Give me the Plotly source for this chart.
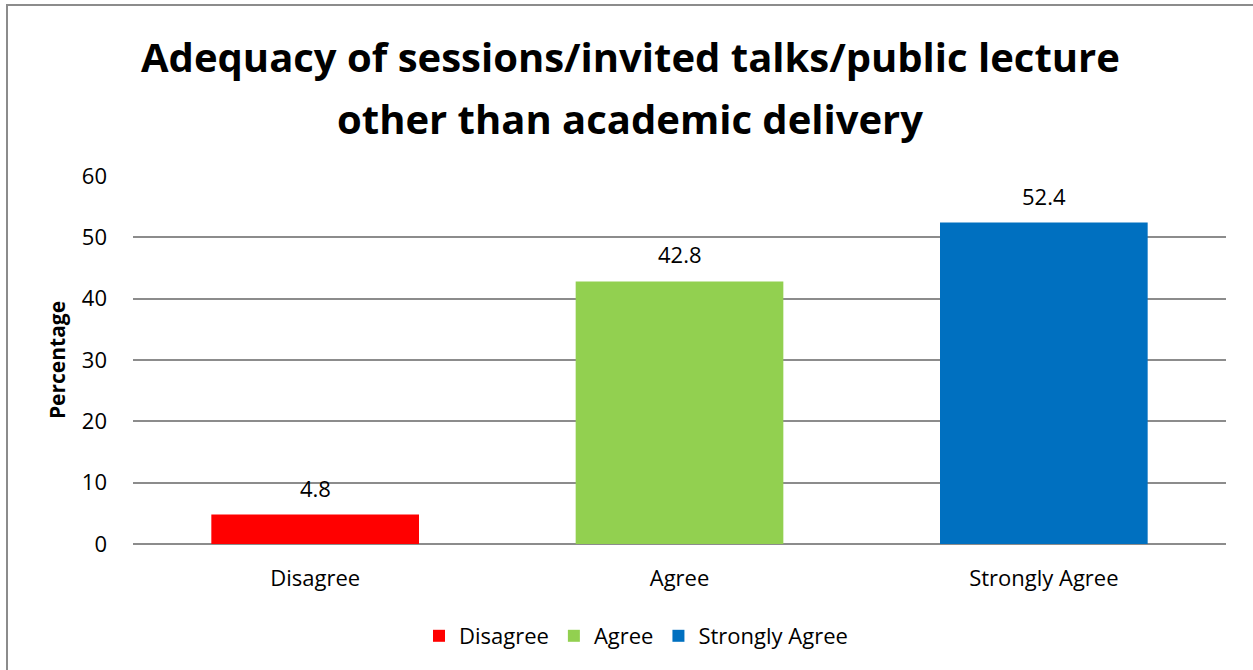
import plotly.graph_objects as go

categories = ["Disagree", "Agree", "Strongly Agree"]
values = [4.8, 42.8, 52.4]
colors = ["#FF0000", "#92D050", "#0070C0"]
y_ticks = [0, 10, 20, 30, 40, 50, 60]
title_lines = ["Adequacy of sessions/invited talks/public lecture", "other than academic delivery"]

FONT = "Open Sans"
W, H = 1253, 670
L, R, T, B = 133, 27, 176, 126
pw = W - L - R
ph = H - T - B

fig = go.Figure()
for c, v, col in zip(categories, values, colors):
    fig.add_trace(go.Bar(x=[c], y=[v], name=c, marker_color=col, width=0.57,
                         marker_line_width=0))

for c, v in zip(categories, values):
    fig.add_annotation(x=c, y=v, text=f"{v}", showarrow=False, yanchor="bottom",
                       yshift=10, font=dict(family=FONT, size=22, color="#000000"))

# title as two lines (pixel centres 55 and 118 from top)
for line, py in zip(title_lines, [56, 118]):
    fig.add_annotation(xref="paper", yref="paper", x=(630 - L) / pw, y=(H - B - py) / ph,
                       xanchor="center", yanchor="middle", showarrow=False,
                       text=f"<b>{line}</b>", font=dict(family=FONT, size=40, color="#000000"))

fig.add_shape(type="rect", xref="paper", yref="paper",
              x0=(7 - L) / pw, x1=2, y0=-2, y1=(H - B - 5) / ph,
              line=dict(color="#8c8c8c", width=2), fillcolor="rgba(0,0,0,0)", layer="below")

fig.update_layout(
    width=W, height=H,
    margin=dict(l=L, r=R, t=T, b=B),
    paper_bgcolor="white", plot_bgcolor="white",
    barmode="overlay",
    font=dict(family=FONT, color="#000000"),
    xaxis=dict(showgrid=False, showline=False, ticks="", tickfont=dict(family=FONT, size=22),
               ticklabelstandoff=19),
    yaxis=dict(range=[0, 60], tickvals=y_ticks, showgrid=True, gridcolor="#8c8c8c", gridwidth=1.5,
               zeroline=True, zerolinecolor="#8c8c8c", zerolinewidth=2, showline=False,
               tickfont=dict(family=FONT, size=22), ticklabelstandoff=25,
               title=dict(text="<b>Percentage</b>", font=dict(family=FONT, size=21), standoff=10)),
    legend=dict(orientation="h", x=(636 - L) / pw, xanchor="center", y=-0.25, yanchor="middle",
                font=dict(family=FONT, size=22), itemwidth=30, traceorder="normal"),
    showlegend=True,
)

fig.write_html("out.html", config={"displayModeBar": False},
               post_script="document.body.style.margin='0';")
